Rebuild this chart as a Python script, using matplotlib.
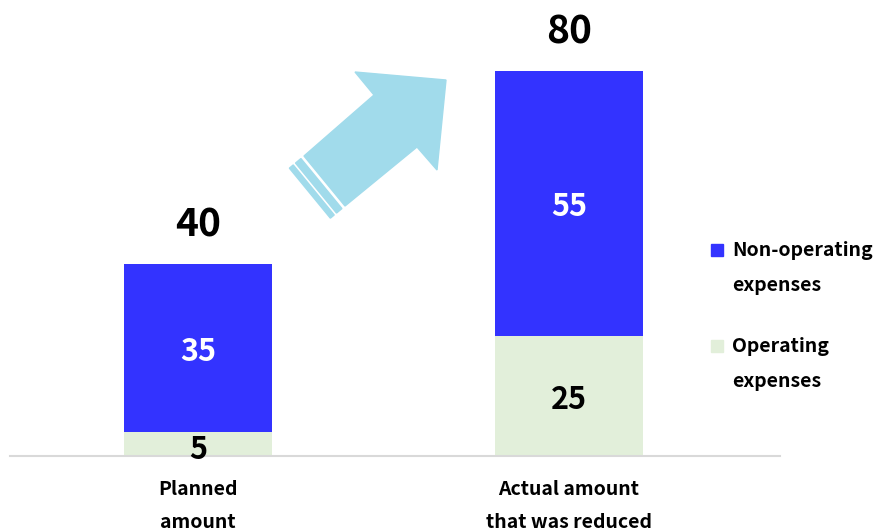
import matplotlib
matplotlib.use("Agg")
import matplotlib.pyplot as plt
from matplotlib.patches import Polygon
import numpy as np

plt.rcParams['font.family'] = ['Noto Sans CJK JP', 'DejaVu Sans']

categories = ["Planned\namount", "Actual amount\nthat was reduced"]
operating = [5, 25]
non_operating = [35, 55]
series_names = ["Non-operating\nexpenses", "Operating\nexpenses"]

c_non = "#3333FF"
c_op = "#E2EFDA"
c_arrow = "#A1DBEB"

W, H = 884, 531
fig = plt.figure(figsize=(W / 100, H / 100), dpi=100)

# axes: baseline at y=456 px, x from 10 to 780 px
ax = fig.add_axes([10 / W, 1 - 456 / H, 770 / W, 456 / H])
x = np.arange(len(categories))
width = 0.40
ax.bar(x, operating, width, color=c_op, zorder=2)
ax.bar(x, non_operating, width, bottom=operating, color=c_non, zorder=2)

ax.set_xlim(-0.507, 1.569)
ax.set_ylim(0, 456 / 4.8125)
for s in ["top", "right", "left"]:
    ax.spines[s].set_visible(False)
ax.spines["bottom"].set_color("#D9D9D9")
ax.spines["bottom"].set_linewidth(1.5)
ax.set_yticks([])
ax.set_xticks(x)
ax.set_xticklabels(categories, fontsize=14, fontweight="bold", linespacing=1.95)
ax.tick_params(axis="x", length=0, pad=17)

for i in range(len(categories)):
    tot = operating[i] + non_operating[i]
    ax.text(x[i], tot + 4, f"{tot}", ha="center", va="bottom", fontsize=28,
            fontweight="bold", color="black")
    ax.text(x[i], operating[i] + non_operating[i] / 2 - 0.8, f"{non_operating[i]}",
            ha="center", va="center", fontsize=22, fontweight="bold", color="white")
    if operating[i] >= 10:
        ax.text(x[i], operating[i] / 2 - 0.8, f"{operating[i]}", ha="center",
                va="center", fontsize=22, fontweight="bold", color="black")
    else:
        ax.text(x[i], operating[i] / 2 - 1.2, f"{operating[i]}", ha="center",
                va="center", fontsize=22, fontweight="bold", color="black")

# legend (manual, figure coords)
def fx(px):
    return px / W
def fy(py):
    return 1 - py / H

leg_items = [(series_names[0], c_non, 250), (series_names[1], c_op, 346)]
for name, col, py in leg_items:
    fig.patches.append(plt.Rectangle((fx(711), fy(py + 6)), 12 / W, 12 / H,
                                     transform=fig.transFigure, color=col))
    fig.text(fx(732), fy(py - 9), name, ha="left", va="top", fontsize=14,
             fontweight="bold", linespacing=2.05,
             transform=fig.transFigure)

# decorative arrow
arrow_px = [(304, 156), (374, 95), (355, 72), (446, 80), (437, 170),
            (417, 147), (345, 206)]
fig.patches.append(Polygon([(fx(a), fy(b)) for a, b in arrow_px], closed=True,
                           transform=fig.transFigure, color=c_arrow))
p1 = np.array([304, 156.0]); p2 = np.array([345, 206.0])
back = np.array([-0.77, 0.64])
for o1, o2 in [(4, 11), (14, 19)]:
    pts = [p1 + back * o1, p2 + back * o1, p2 + back * o2, p1 + back * o2]
    fig.patches.append(Polygon([(fx(a), fy(b)) for a, b in pts], closed=True,
                               transform=fig.transFigure, color=c_arrow))

fig.savefig("out.png", dpi=100, facecolor="white")
